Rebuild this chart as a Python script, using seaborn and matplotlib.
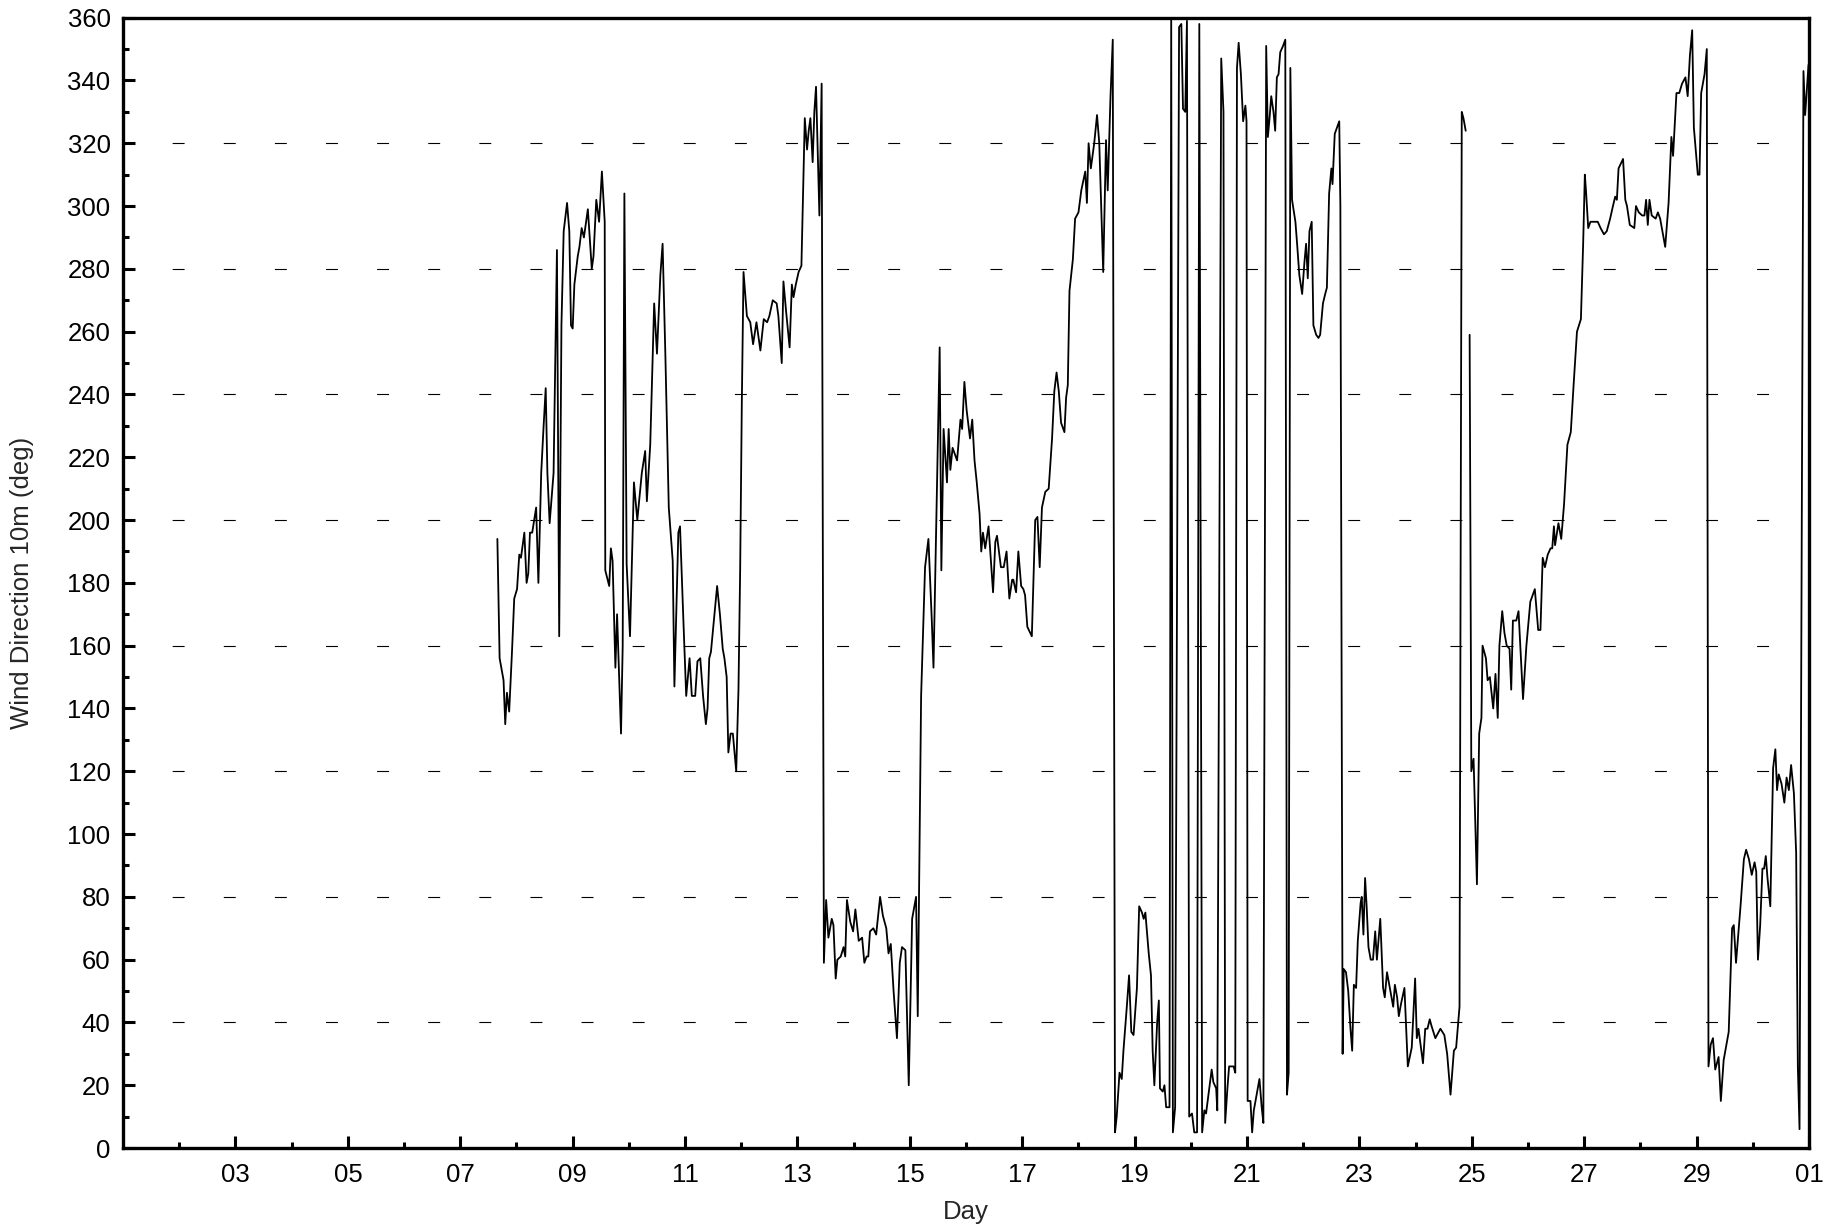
import numpy as np
import pandas as pd
import matplotlib
matplotlib.use("Agg")
import matplotlib.pyplot as plt
import seaborn as sns
from matplotlib.ticker import FixedLocator, MultipleLocator

# -------------------------------
# Data: hourly-ish wind direction (day of month, degrees)
# -------------------------------

# first stretch, up to the gap just before day 25
day_a = [
    7.66, 7.70, 7.77, 7.80, 7.83, 7.87, 7.92, 7.96, 8.01, 8.05, 8.08, 8.14, 8.18, 8.21, 8.24, 8.28,
    8.35, 8.39, 8.44, 8.48, 8.52, 8.55, 8.59, 8.66, 8.72, 8.76, 8.80, 8.84, 8.90, 8.94, 8.97, 9.00,
    9.03, 9.09, 9.12, 9.16, 9.20, 9.27, 9.34, 9.37, 9.42, 9.47, 9.52, 9.57, 9.58, 9.65, 9.68, 9.71,
    9.76, 9.79, 9.86, 9.89, 9.92, 9.96, 10.02, 10.09, 10.15, 10.23, 10.29, 10.32, 10.38, 10.45, 10.50,
    10.56, 10.60, 10.65, 10.71, 10.78, 10.81, 10.88, 10.91, 10.97, 11.02, 11.08, 11.12, 11.18, 11.22,
    11.27, 11.32, 11.37, 11.40, 11.43, 11.46, 11.57, 11.62, 11.67, 11.70, 11.74, 11.77, 11.81, 11.85,
    11.91, 11.95, 11.98, 12.01, 12.04, 12.10, 12.16, 12.21, 12.27, 12.34, 12.40, 12.46, 12.50, 12.56,
    12.63, 12.66, 12.72, 12.75, 12.80, 12.86, 12.90, 12.93, 12.97, 13.02, 13.07, 13.10, 13.13, 13.17,
    13.20, 13.23, 13.27, 13.30, 13.33, 13.39, 13.43, 13.47, 13.51, 13.55, 13.61, 13.64, 13.68, 13.71,
    13.77, 13.82, 13.85, 13.88, 13.94, 13.99, 14.03, 14.09, 14.15, 14.19, 14.23, 14.26, 14.29, 14.35,
    14.40, 14.47, 14.52, 14.58, 14.62, 14.66, 14.71, 14.77, 14.82, 14.86, 14.92, 14.98, 15.04, 15.11,
    15.14, 15.20, 15.27, 15.33, 15.39, 15.42, 15.47, 15.53, 15.56, 15.60, 15.66, 15.69, 15.72, 15.76,
    15.84, 15.90, 15.93, 15.97, 16.01, 16.07, 16.11, 16.15, 16.19, 16.24, 16.27, 16.30, 16.34, 16.40,
    16.48, 16.52, 16.55, 16.62, 16.67, 16.72, 16.77, 16.82, 16.84, 16.89, 16.93, 16.98, 17.02, 17.05,
    17.09, 17.17, 17.23, 17.27, 17.31, 17.35, 17.41, 17.47, 17.53, 17.57, 17.61, 17.65, 17.69, 17.75,
    17.78, 17.81, 17.84, 17.90, 17.94, 18.00, 18.05, 18.12, 18.15, 18.18, 18.22, 18.28, 18.33, 18.37,
    18.44, 18.49, 18.52, 18.57, 18.61, 18.65, 18.68, 18.73, 18.77, 18.80, 18.86, 18.90, 18.94, 18.98,
    19.04, 19.08, 19.13, 19.16, 19.19, 19.25, 19.29, 19.32, 19.35, 19.40, 19.43, 19.45, 19.50, 19.53,
    19.56, 19.62, 19.65, 19.68, 19.72, 19.79, 19.83, 19.86, 19.90, 19.93, 19.97, 20.02, 20.06, 20.11,
    20.15, 20.20, 20.24, 20.27, 20.32, 20.37, 20.40, 20.45, 20.47, 20.54, 20.58, 20.61, 20.65, 20.68,
    20.76, 20.79, 20.82, 20.85, 20.89, 20.93, 20.97, 20.99, 21.01, 21.06, 21.09, 21.12, 21.18, 21.22,
    21.26, 21.29, 21.34, 21.37, 21.40, 21.43, 21.47, 21.50, 21.53, 21.56, 21.59, 21.64, 21.68, 21.71,
    21.74, 21.77, 21.80, 21.86, 21.89, 21.93, 21.98, 22.02, 22.05, 22.08, 22.11, 22.15, 22.18, 22.23,
    22.27, 22.30, 22.35, 22.39, 22.42, 22.46, 22.50, 22.52, 22.56, 22.60, 22.64, 22.66, 22.70, 22.72,
    22.76, 22.80, 22.84, 22.87, 22.90, 22.94, 22.97, 23.02, 23.04, 23.07, 23.10, 23.13, 23.16, 23.20,
    23.24, 23.28, 23.31, 23.37, 23.42, 23.45, 23.49, 23.52, 23.55, 23.60, 23.63, 23.67, 23.70, 23.74,
    23.80, 23.86, 23.93, 23.99, 24.02, 24.05, 24.13, 24.17, 24.21, 24.25, 24.28, 24.35, 24.44, 24.51,
    24.56, 24.62, 24.68, 24.72, 24.78, 24.82, 24.85, 24.89,
]
wdir_a = [
    194, 156, 149, 135, 145, 139, 158, 175, 178, 189, 188, 196, 180, 183, 196, 196,
    204, 180, 215, 229, 242, 215, 199, 215, 286, 163, 262, 292, 301, 292, 262, 261,
    275, 284, 287, 293, 290, 299, 280, 284, 302, 295, 311, 295, 184, 179, 191, 187,
    153, 170, 132, 160, 304, 186, 163, 212, 200, 215, 222, 206, 224, 269, 253,
    278, 288, 252, 204, 187, 147, 196, 198, 168, 144, 156, 144, 144, 155,
    156, 144, 135, 140, 156, 158, 179, 170, 159, 156, 150, 126, 132, 132,
    120, 146, 184, 238, 279, 265, 263, 256, 263, 254, 264, 263, 265, 270,
    269, 265, 250, 276, 266, 255, 275, 271, 275, 279, 281, 305, 328, 318,
    324, 328, 314, 330, 338, 297, 339, 59, 79, 67, 73, 71, 54, 60,
    61, 64, 61, 79, 72, 69, 76, 66, 67, 59, 61, 61, 69, 70,
    68, 80, 74, 70, 62, 65, 50, 35, 59, 64, 63, 20, 73, 80,
    42, 144, 185, 194, 168, 153, 200, 255, 184, 229, 212, 229, 216, 223,
    219, 232, 229, 244, 235, 226, 232, 219, 212, 202, 190, 196, 191, 198,
    177, 193, 195, 185, 185, 190, 175, 181, 181, 177, 190, 179, 178, 176,
    166, 163, 200, 201, 185, 204, 209, 210, 226, 241, 247, 241, 231, 228,
    239, 243, 273, 283, 296, 298, 305, 311, 301, 320, 312, 320, 329, 320,
    279, 321, 305, 335, 353, 5, 10, 24, 22, 31, 45, 55, 37, 36,
    51, 77, 75, 73, 75, 62, 55, 31, 20, 40, 47, 19, 18, 20,
    13, 13, 360, 5, 13, 357, 358, 331, 330, 359, 10, 11, 5, 5,
    358, 5, 12, 11, 18, 25, 21, 19, 12, 347, 330, 8, 19, 26,
    26, 24, 344, 352, 342, 327, 332, 327, 15, 15, 5, 12, 18, 22,
    13, 8, 351, 322, 328, 335, 330, 324, 341, 342, 349, 351, 353, 17,
    24, 344, 302, 295, 288, 278, 272, 282, 288, 277, 292, 295, 262, 259,
    258, 259, 269, 272, 274, 304, 312, 307, 323, 325, 327, 300, 30, 57,
    56, 50, 38, 31, 52, 51, 66, 78, 80, 68, 86, 76, 64, 60,
    60, 69, 60, 73, 51, 48, 56, 53, 50, 45, 52, 48, 42, 46,
    51, 26, 32, 54, 35, 38, 27, 38, 38, 41, 39, 35, 38, 36,
    30, 17, 31, 32, 45, 330, 328, 324,
]

# second stretch, after the gap
day_b = [
    24.96, 24.99, 25.03, 25.09, 25.13, 25.17, 25.19, 25.25, 25.28, 25.32, 25.38, 25.42, 25.46, 25.49,
    25.54, 25.58, 25.62, 25.67, 25.70, 25.73, 25.79, 25.83, 25.91, 25.97, 26.04, 26.12, 26.18, 26.22,
    26.26, 26.30, 26.35, 26.40, 26.43, 26.46, 26.48, 26.54, 26.59, 26.64, 26.70, 26.76, 26.81, 26.87,
    26.94, 26.98, 27.01, 27.03, 27.07, 27.11, 27.17, 27.24, 27.29, 27.35, 27.40, 27.46, 27.51, 27.55,
    27.58, 27.61, 27.69, 27.73, 27.76, 27.81, 27.89, 27.92, 27.97, 28.03, 28.07, 28.10, 28.13, 28.16,
    28.20, 28.27, 28.31, 28.35, 28.40, 28.44, 28.50, 28.55, 28.58, 28.64, 28.69, 28.74, 28.80, 28.84,
    28.88, 28.92, 28.95, 29.02, 29.05, 29.08, 29.14, 29.18, 29.21, 29.25, 29.29, 29.33, 29.39, 29.43,
    29.48, 29.57, 29.63, 29.66, 29.70, 29.78, 29.84, 29.88, 29.93, 29.98, 30.03, 30.06, 30.09, 30.13,
    30.17, 30.20, 30.23, 30.26, 30.31, 30.36, 30.40, 30.43, 30.46, 30.51, 30.56, 30.60, 30.64, 30.68,
    30.73, 30.77, 30.80, 30.83, 30.90, 30.93, 30.99,
]
wdir_b = [
    259, 120, 124, 84, 132, 137, 160, 156, 149, 150, 140, 151, 137, 160,
    171, 164, 160, 159, 146, 168, 168, 171, 143, 160, 174, 178, 165, 165,
    188, 185, 189, 191, 191, 198, 192, 199, 194, 205, 224, 228, 243, 260,
    264, 288, 310, 305, 293, 295, 295, 295, 293, 291, 292, 296, 300, 303,
    302, 312, 315, 302, 300, 294, 293, 300, 298, 297, 297, 302, 294, 302,
    297, 296, 298, 296, 291, 287, 301, 322, 316, 336, 336, 339, 341, 335,
    348, 356, 325, 310, 310, 336, 342, 350, 26, 33, 35, 25, 29, 15,
    28, 37, 70, 71, 59, 77, 92, 95, 92, 87, 91, 88, 60, 71,
    89, 89, 93, 86, 77, 121, 127, 114, 119, 116, 110, 118, 114, 122,
    113, 94, 26, 6, 343, 329, 345,
]

tick_days = list(range(3, 32, 2))
tick_labels = ["03", "05", "07", "09", "11", "13", "15", "17", "19", "21",
               "23", "25", "27", "29", "01"]

df = pd.DataFrame({
    "day": day_a + day_b,
    "wdir": wdir_a + wdir_b,
    "segment": [0] * len(day_a) + [1] * len(day_b),
})

# -------------------------------
# Plot
# -------------------------------
sns.set_style("white")
plt.rcParams["font.family"] = ["Liberation Sans", "DejaVu Sans"]
plt.rcParams["lines.scale_dashes"] = False

fig = plt.figure(figsize=(18.37, 12.28), dpi=100)
ax = fig.add_axes([0.0670, 0.0651, 0.9178, 0.9205])

# dashed reference lines every 40 deg
for g in np.arange(40, 360, 40):
    ax.axhline(g, color="black", lw=0.8, linestyle=(1.4, (8.6, 28.2)), zorder=1)

sns.lineplot(data=df, x="day", y="wdir", units="segment", estimator=None,
             color="black", lw=1.3, ax=ax, legend=False, zorder=3)

ax.set_xlim(1, 31)
ax.set_ylim(0, 360)
ax.xaxis.set_major_locator(FixedLocator(tick_days))
ax.xaxis.set_minor_locator(FixedLocator(range(2, 31, 2)))
ax.set_xticklabels(tick_labels)
ax.yaxis.set_major_locator(MultipleLocator(20))
ax.yaxis.set_minor_locator(MultipleLocator(10))

# seaborn's white style switches the tick marks off; turn them back on
ax.tick_params(which="both", bottom=True, left=True, top=False, right=False)
ax.tick_params(which="major", direction="in", length=8.6, width=2.2,
               color="black", labelsize=18.5, labelcolor="black")
ax.tick_params(which="minor", direction="in", length=4.3, width=2.2, color="black")
ax.tick_params(axis="x", which="major", pad=11)
ax.tick_params(axis="y", which="major", pad=9)

for s in ax.spines.values():
    s.set_visible(True)
    s.set_color("black")
    s.set_linewidth(2.4)

ax.set_xlabel("Day", fontsize=18.5, labelpad=9)
ax.set_ylabel("Wind Direction 10m (deg)", fontsize=18.5, labelpad=24)

fig.savefig("out.png", dpi=100, facecolor="white")
